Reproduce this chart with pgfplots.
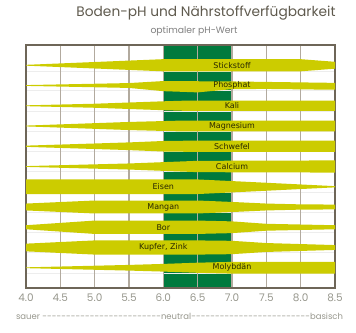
\documentclass[border=0pt]{standalone}
\usepackage{pgfplots}
\pgfplotsset{compat=1.18}
\usepackage{fontspec}
\setmainfont{DejaVu Sans}
\newfontfamily\pop{Poppins}
\definecolor{band}{RGB}{204,204,0}
\definecolor{opt}{RGB}{0,122,61}
\definecolor{framec}{RGB}{110,102,88}
\definecolor{gridc}{RGB}{178,170,158}
\definecolor{lab}{RGB}{40,40,0}
\definecolor{titlec}{RGB}{95,90,78}
\definecolor{ticklab}{RGB}{150,150,140}
\pgfplotsset{layers/mylayers/.define layer set={axis background,axis grid,pre main,main,axis ticks,axis lines,axis tick labels,axis descriptions,axis foreground}{}}
\begin{document}
\begin{tikzpicture}
\begin{axis}[set layers=mylayers, at={(0,0)}, anchor=south west,
  scale only axis, width=309bp, height=243bp,
  xmin=4, xmax=8.5, ymin=0, ymax=12,
  xtick={4,4.5,5,5.5,6,6.5,7,7.5,8,8.5}, ytick=\empty,
  major tick length=0pt, xmajorgrids,
  grid style={gridc, line width=1.1bp},
  axis line style={framec, line width=1.5bp},
  xticklabel style={font=\pop\fontsize{10.5}{12}\selectfont, text=ticklab, yshift=-2bp},
  /pgf/number format/.cd, fixed, fixed zerofill, precision=1, assume math mode=true]
% optimal band
\addplot[on layer=axis background, fill=opt, draw=none] coordinates {(6,0)(7,0)(7,12)(6,12)} -- cycle;
% faint row lines
\addplot[on layer=axis grid, draw=black!7, line width=0.5bp, unbounded coords=jump] coordinates {
(4,0.75)(8.5,0.75)(4,nan)(4,1.75)(8.5,1.75)(4,nan)(4,2.75)(8.5,2.75)(4,nan)(4,3.75)(8.5,3.75)(4,nan)
(4,4.75)(8.5,4.75)(4,nan)(4,5.75)(8.5,5.75)(4,nan)(4,6.75)(8.5,6.75)(4,nan)(4,7.75)(8.5,7.75)(4,nan)
(4,8.75)(8.5,8.75)(4,nan)(4,9.75)(8.5,9.75)(4,nan)(4,10.7)(8.5,10.7)};
% Stickstoff
\addplot[fill=band, draw=none] coordinates {(4.0,11.02)(6.0,11.30)(8.0,11.30)(8.5,11.17)(8.5,10.83)(8.0,10.70)(6.0,10.70)(4.0,10.98)} -- cycle;
% Phosphat
\addplot[fill=band, draw=none] coordinates {(4.0,10.02)(5.5,10.12)(6.0,10.22)(7.0,10.20)(8.5,10.13)(8.5,9.79)(7.5,9.83)(7.0,9.82)(6.5,9.66)(6.0,9.72)(5.5,9.88)(4.0,9.98)} -- cycle;
% Kali
\addplot[fill=band, draw=none] coordinates {(4.0,9.02)(5.0,9.10)(5.5,9.16)(6.0,9.22)(6.3,9.25)(8.5,9.25)(8.5,8.75)(6.3,8.75)(6.0,8.78)(5.5,8.84)(5.0,8.90)(4.0,8.98)} -- cycle;
% Magnesium
\addplot[fill=band, draw=none] coordinates {(4.0,8.02)(5.5,8.20)(6.3,8.27)(8.5,8.27)(8.5,7.73)(6.3,7.73)(5.5,7.80)(4.0,7.98)} -- cycle;
% Schwefel
\addplot[fill=band, draw=none] coordinates {(4.0,7.03)(5.5,7.19)(6.0,7.26)(6.5,7.28)(8.5,7.28)(8.5,6.72)(6.5,6.72)(6.0,6.74)(5.5,6.81)(4.0,6.97)} -- cycle;
% Calcium
\addplot[fill=band, draw=none] coordinates {(4.0,6.02)(5.5,6.15)(6.5,6.28)(8.5,6.30)(8.5,5.70)(6.5,5.72)(5.5,5.85)(4.0,5.98)} -- cycle;
% Eisen
\addplot[fill=band, draw=none] coordinates {(4.0,5.36)(6.5,5.36)(7.0,5.28)(8.5,5.03)(8.5,4.97)(7.0,4.72)(6.5,4.64)(4.0,4.64)} -- cycle;
% Mangan
\addplot[fill=band, draw=none] coordinates {(4.0,4.17)(5.0,4.32)(6.5,4.32)(7.0,4.25)(7.5,4.17)(8.0,4.13)(8.5,4.12)(8.5,3.88)(8.0,3.87)(7.5,3.83)(7.0,3.75)(6.5,3.68)(5.0,3.68)(4.0,3.83)} -- cycle;
% Bor
\addplot[fill=band, draw=none] coordinates {(4.0,3.10)(5.0,3.33)(6.5,3.33)(7.0,3.29)(7.5,3.17)(8.5,3.10)(8.5,2.90)(7.5,2.83)(7.0,2.71)(6.5,2.67)(5.0,2.67)(4.0,2.90)} -- cycle;
% Kupfer, Zink
\addplot[fill=band, draw=none] coordinates {(4.0,2.19)(5.0,2.35)(6.5,2.35)(7.0,2.33)(7.5,2.22)(8.5,2.12)(8.5,1.88)(7.5,1.78)(7.0,1.67)(6.5,1.65)(5.0,1.65)(4.0,1.81)} -- cycle;
% Molybdaen
\addplot[fill=band, draw=none] coordinates {(4.0,1.02)(5.5,1.14)(6.0,1.19)(6.5,1.25)(7.0,1.29)(8.5,1.29)(8.5,0.71)(7.0,0.71)(6.5,0.75)(6.0,0.81)(5.5,0.86)(4.0,0.98)} -- cycle;
% labels
\begin{scope}[every node/.style={font=\fontsize{8}{9}\selectfont, text=lab, inner sep=0pt}]
\node at (axis cs:7,11) {Stickstoff};
\node at (axis cs:7,10) {Phosphat};
\node at (axis cs:7,9) {Kali};
\node at (axis cs:7,8) {Magnesium};
\node at (axis cs:7,7) {Schwefel};
\node at (axis cs:7,6) {Calcium};
\node at (axis cs:6,5) {Eisen};
\node at (axis cs:6,4) {Mangan};
\node at (axis cs:6,3) {Bor};
\node at (axis cs:6,2) {Kupfer, Zink};
\node at (axis cs:7,1) {Molybdän};
\end{scope}
\end{axis}
\node[font=\pop\fontsize{13.8}{16}\selectfont, text=titlec] at (180bp,275bp) {Boden-pH und Nährstoffverfügbarkeit};
\node[font=\pop\fontsize{9.3}{11}\selectfont, text=gray] at (168bp,257bp) {optimaler pH-Wert};
\node[font=\pop\fontsize{8.5}{10}\selectfont, text=ticklab, inner sep=0pt] at (153.5bp,-28bp) {\makebox[327bp]{sauer\ \xleaders\hbox{-}\hfill neutral\xleaders\hbox{-}\hfill basisch}};
\pgfresetboundingbox
\useasboundingbox (-26bp,-45bp) rectangle (330bp,288bp);
\end{tikzpicture}
\end{document}
